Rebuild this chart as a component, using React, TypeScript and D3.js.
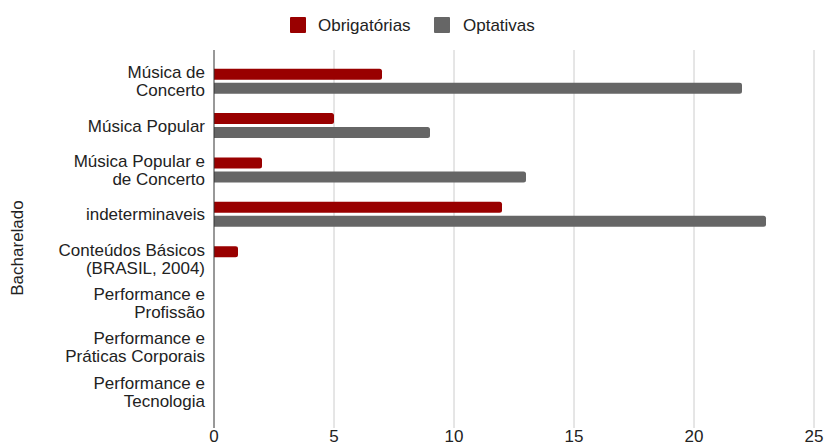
import React from "react";
import * as d3 from "d3";

const categories: string[][] = [
  ["Música de", "Concerto"],
  ["Música Popular"],
  ["Música Popular e", "de Concerto"],
  ["indeterminaveis"],
  ["Conteúdos Básicos", "(BRASIL, 2004)"],
  ["Performance e", "Profissão"],
  ["Performance e", "Práticas Corporais"],
  ["Performance e", "Tecnologia"],
];
const obrigatorias = [7, 5, 2, 12, 1, 0, 0, 0];
const optativas = [22, 9, 13, 23, 0, 0, 0, 0];
const xTicks = [0, 5, 10, 15, 20, 25];
const seriesNames = ["Obrigatórias", "Optativas"];
const colors = ["#990000", "#666666"];

export default function App() {
  const W = 826, H = 445;
  const x = d3.scaleLinear().domain([0, 25]).range([214, 814]);
  const y = d3.scaleBand<number>().domain(d3.range(categories.length)).range([59, 414]);
  const gridTop = 50, gridBottom = 428;
  const barH = 11, gap = 3;
  const font = "'Liberation Sans', Arial, sans-serif";
  const fs = 17;
  const series = [obrigatorias, optativas];

  const barPath = (x0: number, x1: number, y0: number, h: number) => {
    const w = x1 - x0;
    if (w <= 0) return "";
    const r = Math.min(2.5, w / 2);
    return `M${x0},${y0}H${x1 - r}A${r},${r} 0 0 1 ${x1},${y0 + r}V${y0 + h - r}A${r},${r} 0 0 1 ${x1 - r},${y0 + h}H${x0}Z`;
  };

  return (
    <svg width={W} height={H} style={{ position: "absolute", left: 0, top: 0, background: "#fff" }} fontFamily={font}>
      {/* legend */}
      <g>
        <rect x={290} y={17} width={16} height={16} fill={colors[0]} rx={1} />
        <text x={318} y={30.5} fontSize={fs} fill="#222">{seriesNames[0]}</text>
        <rect x={434} y={17} width={16} height={16} fill={colors[1]} rx={1} />
        <text x={463} y={30.5} fontSize={fs} fill="#222">{seriesNames[1]}</text>
      </g>
      {/* grid */}
      {xTicks.map((t) => (
        <g key={t}>
          {t !== 0 && (
            <line x1={x(t)} x2={x(t)} y1={gridTop} y2={gridBottom} stroke="#cccccc" strokeWidth={1} />
          )}
          <text x={x(t)} y={441.5} fontSize={fs} fill="#222" textAnchor="middle">{t}</text>
        </g>
      ))}
      {/* bars */}
      {categories.map((c, i) => {
        const cy = (y(i) as number) + y.bandwidth() / 2;
        return (
          <g key={i}>
            {series.map((s, k) => {
              const y0 = k === 0 ? cy - gap / 2 - barH : cy + gap / 2;
              return <path key={k} d={barPath(x(0), x(s[i]), y0, barH)} fill={colors[k]} />;
            })}
            {c.map((line, j) => (
              <text
                key={j}
                x={205}
                y={cy + 6 + (j - (c.length - 1) / 2) * 18}
                fontSize={fs}
                fill="#222"
                textAnchor="end"
              >
                {line}
              </text>
            ))}
          </g>
        );
      })}
      {/* axis line */}
      <line x1={x(0)} x2={x(0)} y1={gridTop} y2={gridBottom} stroke="#333" strokeWidth={1} />
      {/* y title */}
      <text
        transform={`translate(23, 248) rotate(-90)`}
        fontSize={fs}
        fill="#222"
        textAnchor="middle"
      >
        Bacharelado
      </text>
    </svg>
  );
}
